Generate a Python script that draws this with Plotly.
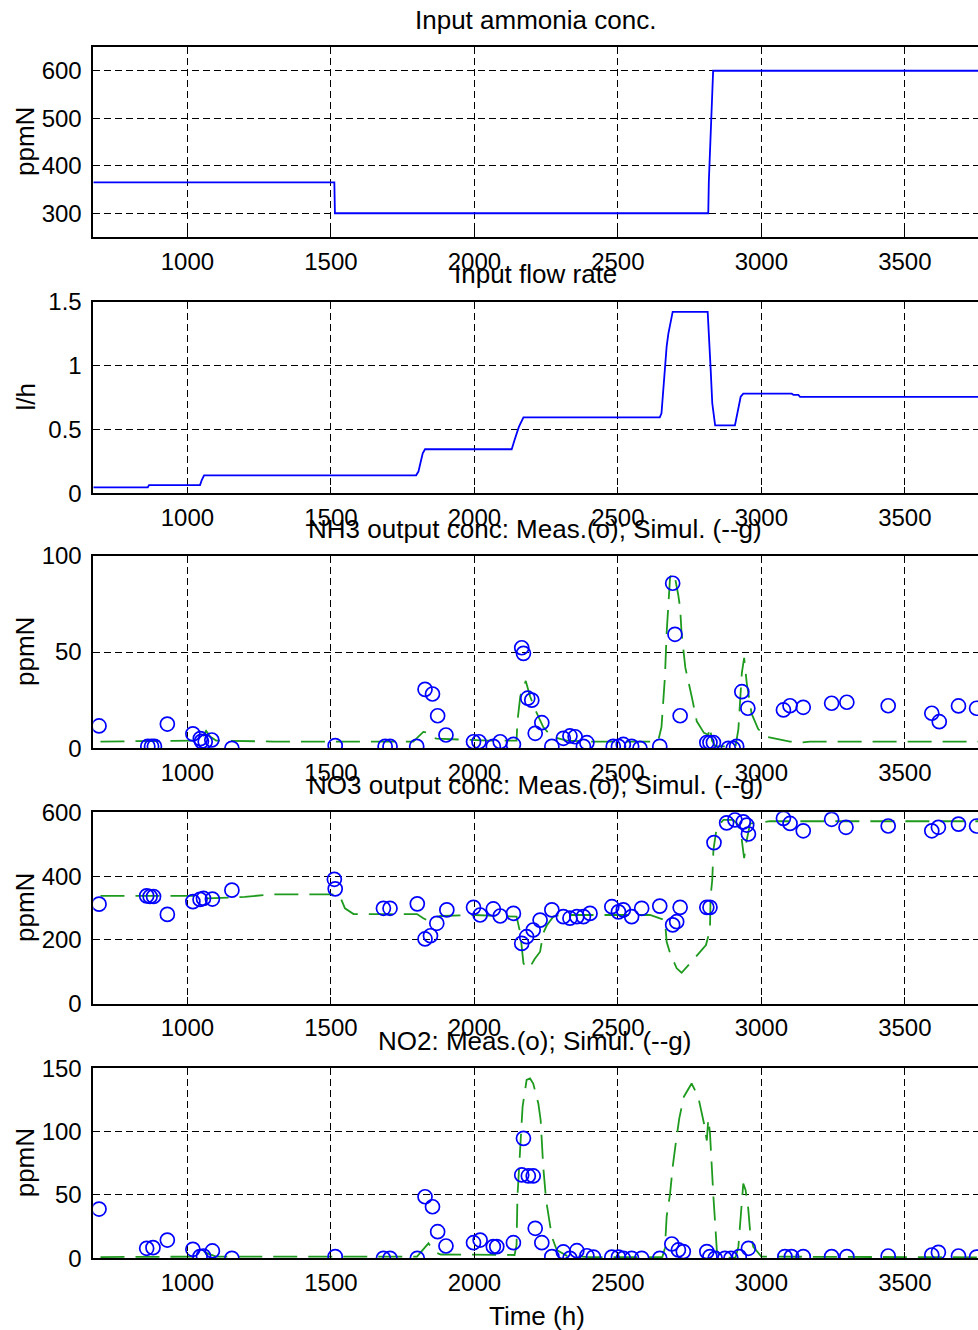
import plotly.graph_objects as go

# ---------------- data ----------------
# Input ammonia concentration (ppmN)
t_nh4_in = [672, 1512, 1514, 2815, 2817, 2822, 2827, 2832, 2838, 3755]
nh4_in = [365, 365, 300, 300, 367, 458, 542, 600, 600, 600]

# Input flow rate (l/h)
t_flow = [672, 862, 866, 1044, 1050, 1058, 1797, 1805, 1813, 1820, 1828,
          2130, 2140, 2155, 2171, 2646, 2652, 2658, 2664, 2670, 2676, 2684, 2691,
          2813, 2819, 2823, 2829, 2839, 2908, 2914, 2920, 2928, 2937,
          3106, 3112, 3129, 3135, 3755]
flow = [0.047, 0.047, 0.064, 0.064, 0.104, 0.141, 0.141, 0.17, 0.247, 0.313, 0.345,
        0.345, 0.417, 0.52, 0.595, 0.595, 0.626, 0.81, 0.99, 1.15, 1.25, 1.33, 1.42,
        1.42, 1.21, 0.99, 0.705, 0.532, 0.532, 0.60, 0.678, 0.756, 0.78,
        0.78, 0.77, 0.77, 0.755, 0.755]

# NH3 output
t_nh3_meas = [692, 862, 875, 885, 930, 1019, 1045, 1049, 1062, 1085, 1155, 1515, 1689, 1706,
              1799, 1828, 1854, 1872, 1901, 1997, 2016, 2066, 2090, 2136, 2165, 2171, 2186,
              2200, 2212, 2235, 2270, 2310, 2333, 2351, 2380, 2392, 2484, 2502, 2519, 2548,
              2577, 2646, 2691, 2699, 2717, 2810, 2821, 2833, 2885, 2902, 2914, 2932, 2953,
              3077, 3100, 3146, 3245, 3298, 3442, 3594, 3620, 3687, 3750]
nh3_meas = [11.6, 1, 1, 1, 12.6, 7.5, 5, 3.6, 3.4, 4.3, 0, 1.4, 1, 1,
            1, 30.6, 28.2, 16.9, 6.9, 3.4, 3.4, 1, 3.4, 2, 52.2, 49.3, 26,
            25, 7.8, 13.3, 1, 5.2, 6.4, 6, 1, 2.9, 1, 1, 2, 1,
            0, 1, 85.7, 59.2, 16.9, 3, 3, 3, 0, 0, 1, 29.4, 20.8,
            19.9, 22.1, 21.3, 23.4, 23.9, 22.1, 18.2, 13.8, 22, 20.8]
t_nh3_sim = [697, 1000, 1045, 1065, 1080, 1100, 1300, 1787, 1822, 1840, 1855, 1869, 1950,
             2050, 2147, 2150, 2160, 2179, 2194, 2212, 2240, 2270, 2322, 2400, 2640, 2652,
             2664, 2670, 2682, 2696, 2710, 2717, 2722, 2735, 2760, 2775, 2800, 2815, 2821,
             2828, 2840, 2910, 2920, 2932, 2940, 2949, 2966, 2989, 3018, 3065, 3100, 3135,
             3170, 3755]
nh3_sim = [3.5, 4, 4, 9, 6, 4, 3.5, 3.5, 8.5, 8, 5.5, 5, 4.5,
           4, 4, 14, 27, 35, 27, 20, 11, 6, 4, 3.5, 3.5, 11,
           37, 60, 89, 91, 80, 73, 60, 42, 25, 14, 8, 7, 11,
           4, 1, 1, 10, 39, 47, 34, 18, 10, 6, 4.7, 3.5, 3,
           3.5, 3.5]

# NO3 output
t_no3_meas = [692, 858, 870, 882, 930, 1019, 1044, 1056, 1087, 1155, 1512, 1515, 1683, 1706,
              1801, 1828, 1847, 1869, 1904, 1997, 2020, 2066, 2090, 2136, 2165, 2182, 2205,
              2229, 2270, 2310, 2333, 2357, 2380, 2403, 2479, 2502, 2519, 2548, 2583, 2646,
              2691, 2705, 2717, 2810, 2821, 2835, 2879, 2908, 2937, 2949, 2955, 3077, 3100,
              3146, 3245, 3295, 3442, 3594, 3617, 3687, 3750]
no3_meas = [312, 338, 336, 336, 280, 320, 327, 330, 328, 356, 390, 360, 299, 299,
            313, 203, 213, 252, 294, 302, 278, 297, 275, 283, 189, 210, 231,
            262, 294, 273, 268, 273, 273, 283, 304, 288, 294, 273, 299, 306,
            247, 257, 302, 302, 302, 505, 567, 576, 570, 560, 532, 581, 565,
            542, 578, 553, 557, 542, 553, 563, 557]
t_no3_sim = [697, 1060, 1070, 1200, 1300, 1512, 1530, 1549, 1579, 1800, 1822, 1835, 1850,
             1883, 2000, 2147, 2160, 2171, 2182, 2194, 2210, 2229, 2240, 2252, 2275, 2300,
             2612, 2664, 2670, 2682, 2705, 2722, 2763, 2807, 2821, 2823, 2829, 2833, 2845,
             2868, 2902, 2920, 2932, 2940, 2949, 2961, 2995, 3030, 3755]
no3_sim = [338, 338, 330, 335, 343, 343, 340, 299, 281, 281, 268, 262, 268,
           275, 278, 273, 221, 127, 111, 115, 140, 163, 221, 245, 273, 278,
           278, 262, 194, 158, 111, 97, 138, 184, 231, 335, 388, 482, 555,
           576, 576, 560, 513, 456, 513, 565, 568, 572, 572]

# NO2 output
t_no2_meas = [692, 858, 880, 930, 1019, 1044, 1056, 1087, 1155, 1515, 1683, 1706, 1801,
              1828, 1854, 1872, 1901, 1997, 2020, 2066, 2078, 2136, 2165, 2171, 2188, 2205,
              2212, 2235, 2270, 2310, 2333, 2357, 2392, 2415, 2479, 2502, 2519, 2548, 2583,
              2646, 2688, 2711, 2728, 2810, 2821, 2839, 2873, 2894, 2923, 2955, 3082, 3105,
              3146, 3245, 3298, 3442, 3594, 3617, 3687, 3750]
no2_meas = [38.9, 7.9, 8.4, 14.4, 7.1, 1.3, 1.8, 5.8, 0, 1.3, 0, 0, 0,
            48.6, 40.7, 21, 9.7, 12.3, 14.4, 9.2, 9.2, 12.3, 65.8, 94.7, 65, 65,
            23.7, 12.3, 1.3, 5, 0, 6, 2, 1, 1, 1, 0, 0, 0,
            0, 11.3, 6.6, 5.3, 5.3, 1.3, 0, 0, 0, 1.3, 7.9, 1.3, 1.3,
            1.3, 1.3, 1.3, 1.8, 2.6, 4.7, 1.8, 1]
t_no2_sim = [697, 1040, 1060, 1080, 1100, 1800, 1840, 1860, 1883, 2140, 2147, 2150, 2160,
             2168, 2182, 2194, 2205, 2223, 2231, 2240, 2250, 2258, 2270, 2287, 2322, 2400,
             2655, 2664, 2670, 2682, 2691, 2703, 2714, 2730, 2757, 2780, 2792, 2800, 2810,
             2815, 2821, 2825, 2829, 2833, 2839, 2845, 2860, 2910, 2920, 2932, 2937, 2945,
             2949, 2954, 2961, 2972, 3000, 3755]
no2_sim = [1, 1.3, 4.7, 3, 1.3, 1.3, 11.8, 5, 3, 2.6, 10.5, 48.6, 85.5,
           119.7, 140.8, 142, 138, 122, 109, 72, 46, 33, 17, 6.6, 2, 1,
           1, 8, 33, 51, 72, 93, 110.5, 127.6, 138, 127.6, 115.7, 106.6, 93,
           110, 98.7, 80, 67, 48.6, 27.6, 6, 0.5, 0.5, 9.2, 46, 59, 54,
           48.6, 40, 21, 9, 1.3, 0.8]

# axes / labels
x_range = [672, 3755]
x_ticks = [1000, 1500, 2000, 2500, 3000, 3500]
titles = ["Input ammonia conc.", "Input flow rate",
          "NH3 output conc: Meas.(o); Simul. (--g)",
          "NO3 output conc: Meas.(o); Simul. (--g)",
          "NO2: Meas.(o); Simul. (--g)"]
ylabels = ["ppmN", "l/h", "ppmN", "ppmN", "ppmN"]
y_ranges = [[250, 650], [0, 1.5], [0, 100], [0, 600], [0, 150]]
y_ticks = [[300, 400, 500, 600], [0, 0.5, 1, 1.5], [0, 50, 100],
           [0, 200, 400, 600], [0, 50, 100, 150]]
y_ticktext = [["300", "400", "500", "600"], ["0", "0.5", "1", "1.5"], ["0", "50", "100"],
              ["0", "200", "400", "600"], ["0", "50", "100", "150"]]
xlabel = "Time (h)"

# ---------------- layout ----------------
W, H = 978, 1330
FONT = "Liberation Sans, Arial, Helvetica, sans-serif"
FS_TICK = 24
FS_LAB = 26
BLUE = "#0000ff"
GREEN = "#1e9a1e"

panels_px = [(47, 237), (301.7, 493.3), (555.7, 748.3), (812.3, 1003.7), (1068.3, 1258.3)]
title_y_px = [20, 274, 529, 785, 1041]
left_px = 93.3

fig = go.Figure()

series = [
    [(t_nh4_in, nh4_in, "line_blue")],
    [(t_flow, flow, "line_blue")],
    [(t_nh3_sim, nh3_sim, "dash_green"), (t_nh3_meas, nh3_meas, "circles")],
    [(t_no3_sim, no3_sim, "dash_green"), (t_no3_meas, no3_meas, "circles")],
    [(t_no2_sim, no2_sim, "dash_green"), (t_no2_meas, no2_meas, "circles")],
]

for i, items in enumerate(series):
    k = "" if i == 0 else str(i + 1)
    for xs, ys, kind in items:
        if kind == "line_blue":
            tr = go.Scatter(x=xs, y=ys, mode="lines", line=dict(color=BLUE, width=1.8))
        elif kind == "dash_green":
            tr = go.Scatter(x=xs, y=ys, mode="lines",
                            line=dict(color=GREEN, width=1.8, dash="24px,11px"))
        else:
            tr = go.Scatter(x=xs, y=ys, mode="markers",
                            marker=dict(symbol="circle-open", size=14, color=BLUE,
                                        line=dict(color=BLUE, width=1.7)))
        tr.update(xaxis="x" + k, yaxis="y" + k, showlegend=False, hoverinfo="skip")
        fig.add_trace(tr)

layout = dict(width=W, height=H, margin=dict(l=0, r=0, t=0, b=0, autoexpand=False),
              paper_bgcolor="white", plot_bgcolor="white", showlegend=False,
              font=dict(family=FONT, size=FS_TICK, color="black"))
annotations = []
for i, (top, bot) in enumerate(panels_px):
    k = "" if i == 0 else str(i + 1)
    dom = [1 - bot / H, 1 - top / H]
    layout["xaxis" + k] = dict(
        domain=[left_px / W, 1], anchor="y" + k, range=x_range, automargin=False,
        tickmode="array", tickvals=x_ticks, ticktext=[str(v) for v in x_ticks],
        showline=True, linecolor="black", linewidth=1.6, mirror="ticks",
        ticks="inside", ticklen=7, tickwidth=1.3, tickcolor="black",
        showgrid=True, gridcolor="black", gridwidth=1.3, griddash="7px,4px",
        zeroline=False, ticklabelstandoff=2,
        tickfont=dict(family=FONT, size=FS_TICK, color="black"))
    layout["yaxis" + k] = dict(
        domain=dom, anchor="x" + k, range=y_ranges[i], automargin=False,
        tickmode="array", tickvals=y_ticks[i], ticktext=y_ticktext[i],
        showline=True, linecolor="black", linewidth=1.6, mirror=False,
        ticks="inside", ticklen=7, tickwidth=1.3, tickcolor="black",
        showgrid=True, gridcolor="black", gridwidth=1.3, griddash="7px,4px",
        zeroline=False, ticklabelstandoff=5,
        tickfont=dict(family=FONT, size=FS_TICK, color="black"))
    annotations.append(dict(text=titles[i], x=535 / W, y=1 - title_y_px[i] / H,
                            xref="paper", yref="paper", xanchor="center", yanchor="middle",
                            showarrow=False, font=dict(family=FONT, size=FS_LAB, color="black")))
    annotations.append(dict(text=ylabels[i], x=25 / W, y=1 - (top + bot) / 2 / H,
                            xref="paper", yref="paper", xanchor="center", yanchor="middle",
                            textangle=-90, showarrow=False,
                            font=dict(family=FONT, size=FS_LAB, color="black")))
annotations.append(dict(text=xlabel, x=537 / W, y=1 - 1316 / H, xref="paper", yref="paper",
                        xanchor="center", yanchor="middle", showarrow=False,
                        font=dict(family=FONT, size=FS_LAB, color="black")))
layout["annotations"] = annotations
fig.update_layout(**layout)

fig.write_html("out.html")
